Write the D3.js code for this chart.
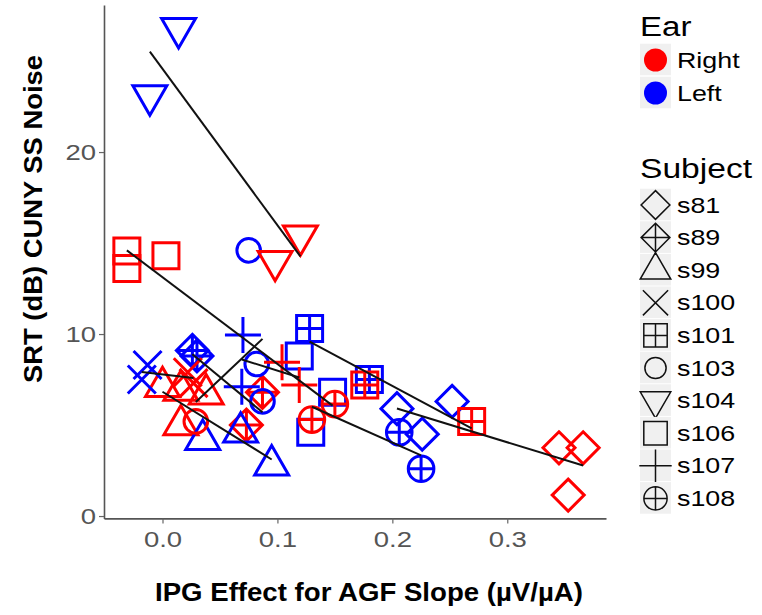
<!DOCTYPE html>
<html>
<head>
<meta charset="utf-8">
<script src="https://cdn.jsdelivr.net/npm/d3@7"></script>
<style>
  body { margin: 0; background: #fff; }
  svg { display: block; font-family: "Liberation Sans", Arial, sans-serif; }
</style>
</head>
<body>
<svg id="chart" width="762" height="615"></svg>
<script>
// ---- data ----
var subjects = ["s81", "s89", "s99", "s100", "s101", "s103", "s104", "s106", "s107", "s108"];
var ears = ["Right", "Left"];
var xTicks = [0.0, 0.1, 0.2, 0.3];
var yTicks = [0, 10, 20];

var ptSubject = [
  "s81", "s81", "s81", "s81", "s81", "s81",
  "s89", "s89", "s89", "s89",
  "s99", "s99", "s99", "s99", "s99", "s99", "s99",
  "s100", "s100", "s100", "s100",
  "s101", "s101", "s101", "s101",
  "s103", "s103", "s103", "s103",
  "s104", "s104", "s104", "s104",
  "s106", "s106", "s106", "s106", "s106", "s106",
  "s107", "s107", "s107", "s107",
  "s108", "s108", "s108", "s108"
];
var ptEar = [
  "Right", "Right", "Right", "Left", "Left", "Left",
  "Left", "Left", "Right", "Right",
  "Right", "Right", "Right", "Right", "Left", "Left", "Left",
  "Left", "Left", "Right", "Right",
  "Left", "Left", "Right", "Right",
  "Right", "Left", "Left", "Left",
  "Left", "Left", "Right", "Right",
  "Right", "Right", "Right", "Left", "Left", "Left",
  "Left", "Left", "Right", "Right",
  "Right", "Right", "Left", "Left"
];
var ptX = [
  0.345, 0.366, 0.353, 0.204, 0.252, 0.226,
  0.026, 0.030, 0.087, 0.073,
  0.000, 0.016, 0.016, 0.038, 0.035, 0.068, 0.095,
  -0.013, -0.018, 0.027, 0.022,
  0.128, 0.180, 0.176, 0.269,
  0.029, 0.075, 0.082, 0.087,
  -0.011, 0.014, 0.098, 0.120,
  -0.031, -0.031, 0.003, 0.119, 0.129, 0.148,
  0.070, 0.069, 0.104, 0.119,
  0.130, 0.150, 0.206, 0.225
];
var ptY = [
  3.75, 3.75, 1.15, 5.9, 6.3, 4.5,
  9.1, 8.8, 6.8, 5.0,
  7.1, 6.9, 5.0, 6.7, 4.2, 4.6, 2.8,
  8.3, 7.5, 7.3, 7.9,
  10.3, 7.5, 7.2, 5.2,
  5.2, 14.6, 8.35, 6.3,
  23.1, 26.8, 14.0, 15.4,
  14.56, 13.6, 14.3, 8.8, 4.6, 6.8,
  9.95, 7.1, 8.45, 7.2,
  5.3, 6.15, 4.6, 2.6
];

var earColor = d3.scaleOrdinal().domain(ears).range(["#ff0000", "#0000ff"]);

var points = ptX.map(function(v, i) {
  return { x: v, y: ptY[i], subject: ptSubject[i], ear: ptEar[i] };
});

// ---- shapes (R pch 5, 9, 2, 4, 12, 1, 6, 0, 3, 10) ----
function shapePath(subject, k) {
  k = k || 1;
  var d = 16 * k, t = 12.6 * k, c = 14 * k, s = 13 * k, r = 11.8 * k, p = 18 * k;
  var tr = 1.555 * t, tw = 1.347 * t, ty = 0.778 * t;
  function circle(rr) {
    return "M" + (-rr) + ",0A" + rr + "," + rr + " 0 1,0 " + rr + ",0A" + rr + "," + rr + " 0 1,0 " + (-rr) + ",0Z";
  }
  switch (subject) {
    case "s81": return "M0," + (-d) + "L" + d + ",0L0," + d + "L" + (-d) + ",0Z";
    case "s89": return "M0," + (-d) + "L" + d + ",0L0," + d + "L" + (-d) + ",0Z" +
      "M" + (-d) + ",0H" + d + "M0," + (-d) + "V" + d;
    case "s99": return "M0," + (-tr) + "L" + tw + "," + ty + "L" + (-tw) + "," + ty + "Z";
    case "s100": return "M" + (-c) + "," + (-c) + "L" + c + "," + c + "M" + (-c) + "," + c + "L" + c + "," + (-c);
    case "s101": return "M" + (-s) + "," + (-s) + "H" + s + "V" + s + "H" + (-s) + "Z" +
      "M" + (-s) + ",0H" + s + "M0," + (-s) + "V" + s;
    case "s103": return circle(r);
    case "s104": return "M0," + tr + "L" + tw + "," + (-ty) + "L" + (-tw) + "," + (-ty) + "Z";
    case "s106": return "M" + (-s) + "," + (-s) + "H" + s + "V" + s + "H" + (-s) + "Z";
    case "s107": return "M" + (-p) + ",0H" + p + "M0," + (-p) + "V" + p;
    case "s108": return circle(r + 1) + "M" + (-(r + 1)) + ",0H" + (r + 1) + "M0," + (-(r + 1)) + "V" + (r + 1);
  }
}

var svg = d3.select("#chart");

var x = d3.scaleLinear().domain([-0.0509, 0.3859]).range([104, 606]);
var y = d3.scaleLinear().domain([-0.13, 28.08]).range([518.4, 5]);

// axes
var yAxis = svg.append("g")
  .attr("transform", "translate(104,0)")
  .call(d3.axisLeft(y).tickValues(yTicks).tickSize(5).tickSizeOuter(0).tickPadding(3).tickFormat(d3.format("d")));
var xAxis = svg.append("g")
  .attr("transform", "translate(0,518.4)")
  .call(d3.axisBottom(x).tickValues(xTicks).tickSize(5).tickSizeOuter(0).tickPadding(8).tickFormat(d3.format(".1f")));

[yAxis, xAxis].forEach(function(ax) {
  ax.select(".domain").attr("stroke", "#555").attr("stroke-width", 1.6);
  ax.selectAll(".tick line").attr("stroke", "#666").attr("stroke-width", 1.2);
  ax.selectAll(".tick text").attr("fill", "#555").attr("font-size", 22)
    .attr("font-family", "Liberation Sans, Arial, sans-serif")
    .attr("transform", "scale(1.25,1)");
});
yAxis.selectAll(".tick text").attr("x", -8 / 1.25);
xAxis.selectAll(".tick text").attr("x", 0);

// points
svg.append("g").selectAll("path.pt")
  .data(points)
  .join("path")
  .attr("class", "pt")
  .attr("transform", function(d) { return "translate(" + x(d.x) + "," + y(d.y) + ")"; })
  .attr("d", function(d) { return shapePath(d.subject); })
  .attr("fill", "none")
  .attr("stroke", function(d) { return earColor(d.ear); })
  .attr("stroke-width", 3);

// linear fits per subject
var fits = subjects.map(function(sub) {
  var pts = points.filter(function(p) { return p.subject === sub; });
  var mx = d3.mean(pts, function(p) { return p.x; });
  var my = d3.mean(pts, function(p) { return p.y; });
  var sxy = d3.sum(pts, function(p) { return (p.x - mx) * (p.y - my); });
  var sxx = d3.sum(pts, function(p) { return (p.x - mx) * (p.x - mx); });
  var b = sxy / sxx, a = my - b * mx;
  var ext = d3.extent(pts, function(p) { return p.x; });
  return ext.map(function(v) { return [v, a + b * v]; });
});

var line = d3.line().x(function(d) { return x(d[0]); }).y(function(d) { return y(d[1]); });
svg.append("g").selectAll("path.fit")
  .data(fits)
  .join("path")
  .attr("class", "fit")
  .attr("d", line)
  .attr("fill", "none")
  .attr("stroke", "#111")
  .attr("stroke-width", 2);

// axis titles
svg.append("text")
  .attr("x", 369).attr("y", 601)
  .attr("text-anchor", "middle")
  .attr("font-weight", "bold").attr("font-size", 26)
  .attr("textLength", 428).attr("lengthAdjust", "spacingAndGlyphs")
  .text("IPG Effect for AGF Slope (\u00b5V/\u00b5A)");

svg.append("text")
  .attr("transform", "translate(42,219) rotate(-90)")
  .attr("text-anchor", "middle")
  .attr("font-weight", "bold").attr("font-size", 25)
  .attr("textLength", 328).attr("lengthAdjust", "spacingAndGlyphs")
  .text("SRT (dB) CUNY SS Noise");

// legends
var keyX = 640, keyW = 31, keyH = 32.6, labelX = 677, sx = 1.22;

function legendLabel(txt, cy, size) {
  svg.append("text")
    .attr("transform", "translate(" + labelX + "," + (cy + 7.5) + ") scale(" + sx + ",1)")
    .attr("font-size", size)
    .text(txt);
}

svg.append("text")
  .attr("transform", "translate(640,36) scale(1.18,1)")
  .attr("font-size", 28).text("Ear");

var earRows = [60, 93];
ears.forEach(function(e, i) {
  var cy = earRows[i];
  svg.append("rect").attr("x", keyX).attr("y", cy - keyH / 2).attr("width", keyW).attr("height", keyH - 1)
    .attr("fill", "#f0f0f0");
  svg.append("circle").attr("cx", keyX + keyW / 2).attr("cy", cy).attr("r", 11.5)
    .attr("fill", earColor(e));
  legendLabel(e, cy, 22);
});

svg.append("text")
  .attr("transform", "translate(640,178) scale(1.2,1)")
  .attr("font-size", 28).text("Subject");

subjects.forEach(function(sub, i) {
  var cy = 205 + i * 32.6;
  svg.append("rect").attr("x", keyX).attr("y", cy - keyH / 2).attr("width", keyW).attr("height", keyH - 1)
    .attr("fill", "#f0f0f0");
  svg.append("path")
    .attr("transform", "translate(" + (keyX + keyW / 2) + "," + cy + ")")
    .attr("d", shapePath(sub, 0.9))
    .attr("fill", "none").attr("stroke", "#111").attr("stroke-width", 1.5);
  legendLabel(sub, cy, 22);
});
</script>
</body>
</html>
